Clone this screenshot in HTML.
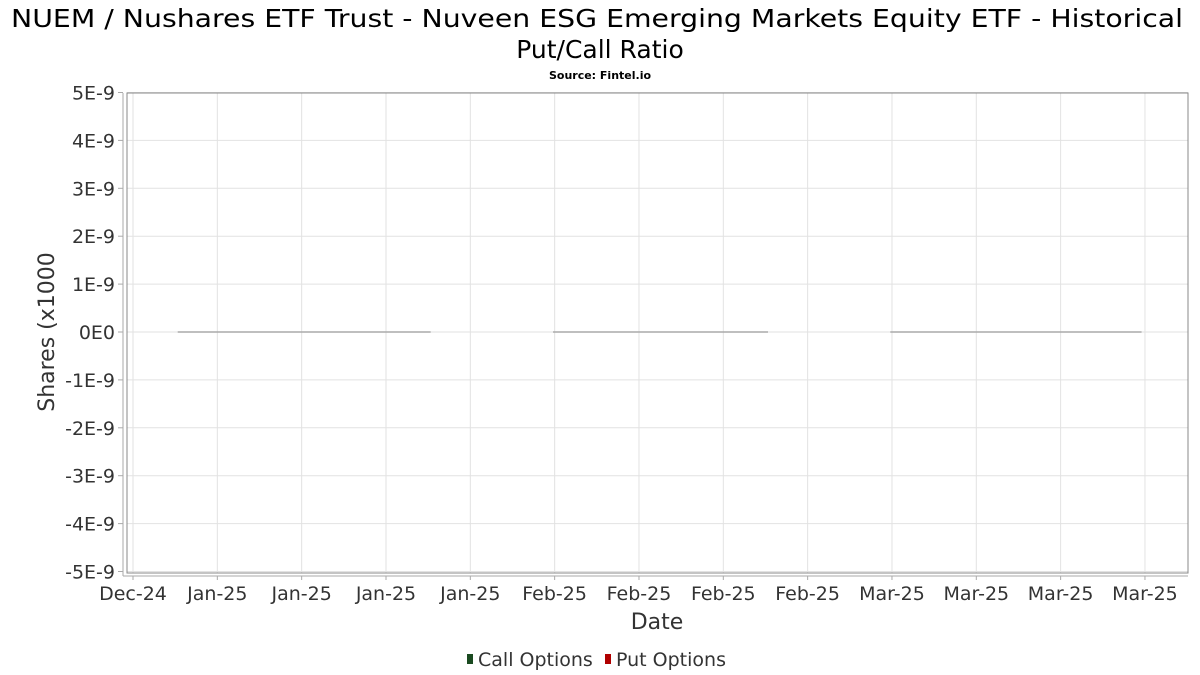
<!DOCTYPE html>
<html><head><meta charset="utf-8"><style>
body{margin:0;background:#fff;}
svg{display:block;font-family:"DejaVu Sans","Liberation Sans",sans-serif;}
</style></head><body>
<svg width="1200" height="675" viewBox="0 0 1200 675">
<rect width="1200" height="675" fill="#fff"/>
<text x="597" y="27" text-anchor="middle" font-size="25" fill="#000" textLength="1172" lengthAdjust="spacingAndGlyphs">NUEM / Nushares ETF Trust - Nuveen ESG Emerging Markets Equity ETF - Historical</text>
<text x="600" y="58" text-anchor="middle" font-size="25" fill="#000">Put/Call Ratio</text>
<text x="600" y="79" text-anchor="middle" font-size="11" font-weight="bold" fill="#000">Source: Fintel.io</text>
<g id="grid"></g>
<rect x="127" y="93" width="1061" height="480" fill="none" stroke="#888"/>
<line x1="123" y1="93" x2="123" y2="576" stroke="#aaa"/>
<line x1="123" y1="576" x2="1188" y2="576" stroke="#aaa"/>
<g id="yticks"></g>
<g id="xticks"></g>
<g id="series"></g>
<text x="54" y="332" text-anchor="middle" font-size="22" fill="#333" transform="rotate(-90 54 332)">Shares (x1000</text>
<text x="657" y="629" text-anchor="middle" font-size="22" fill="#333">Date</text>
<g>
<rect x="467" y="654" width="6" height="10" fill="#1a4a20"/>
<text x="478" y="666" font-size="19" fill="#333">Call Options</text>
<rect x="605" y="654" width="6" height="10" fill="#b00000"/>
<text x="616" y="666" font-size="19" fill="#333">Put Options</text>
</g>
</svg>
<script>
const xLabels=["Dec-24","Jan-25","Jan-25","Jan-25","Jan-25","Feb-25","Feb-25","Feb-25","Feb-25","Mar-25","Mar-25","Mar-25","Mar-25"];
const yTicks=[5,4,3,2,1,0,-1,-2,-3,-4,-5];
const yTickLabels=["5E-9","4E-9","3E-9","2E-9","1E-9","0E0","-1E-9","-2E-9","-3E-9","-4E-9","-5E-9"];
const segStart=[0.53,4.98,8.98];
const segEnd=[3.53,7.53,11.96];
const segValue=[0,0,0];
const NS="http://www.w3.org/2000/svg";
const xS=i=>133+i*84.33;
const yS=v=>332-v*47.9;
const grid=document.getElementById('grid'),yt=document.getElementById('yticks'),xt=document.getElementById('xticks'),se=document.getElementById('series');
function mk(tag,attrs,parent){const e=document.createElementNS(NS,tag);for(const k in attrs)e.setAttribute(k,attrs[k]);parent.appendChild(e);return e;}
yTicks.forEach((v,i)=>{
 const y=yS(v);
 const g=mk('line',{x1:127,x2:1188,y1:y,y2:y,stroke:'#e2e2e2'},grid);
 
 
 const t=mk('line',{x1:118,x2:123,y1:y,y2:y,stroke:'#aaa'},yt);
 
 
 const l=mk('text',{x:115,y:y+7,'text-anchor':'end','font-size':19,fill:'#333'},yt);
 l.textContent=yTickLabels[i];
 
 
});
xLabels.forEach((s,i)=>{
 const x=xS(i);
 const g=mk('line',{x1:x,x2:x,y1:93,y2:573,stroke:'#e2e2e2'},grid);
 
 
 const t=mk('line',{x1:x,x2:x,y1:576,y2:580,stroke:'#aaa'},xt);
 
 
 const l=mk('text',{x:x,y:600,'text-anchor':'middle','font-size':19,fill:'#333'},xt);
 l.textContent=s;
 
 
});
segStart.forEach((s,i)=>{
 const ln=mk('line',{x1:xS(s),x2:xS(segEnd[i]),y1:yS(segValue[i]),y2:yS(segValue[i]),stroke:'#aaa','stroke-width':1.5},se);
 
 
});
</script>
</body></html>
